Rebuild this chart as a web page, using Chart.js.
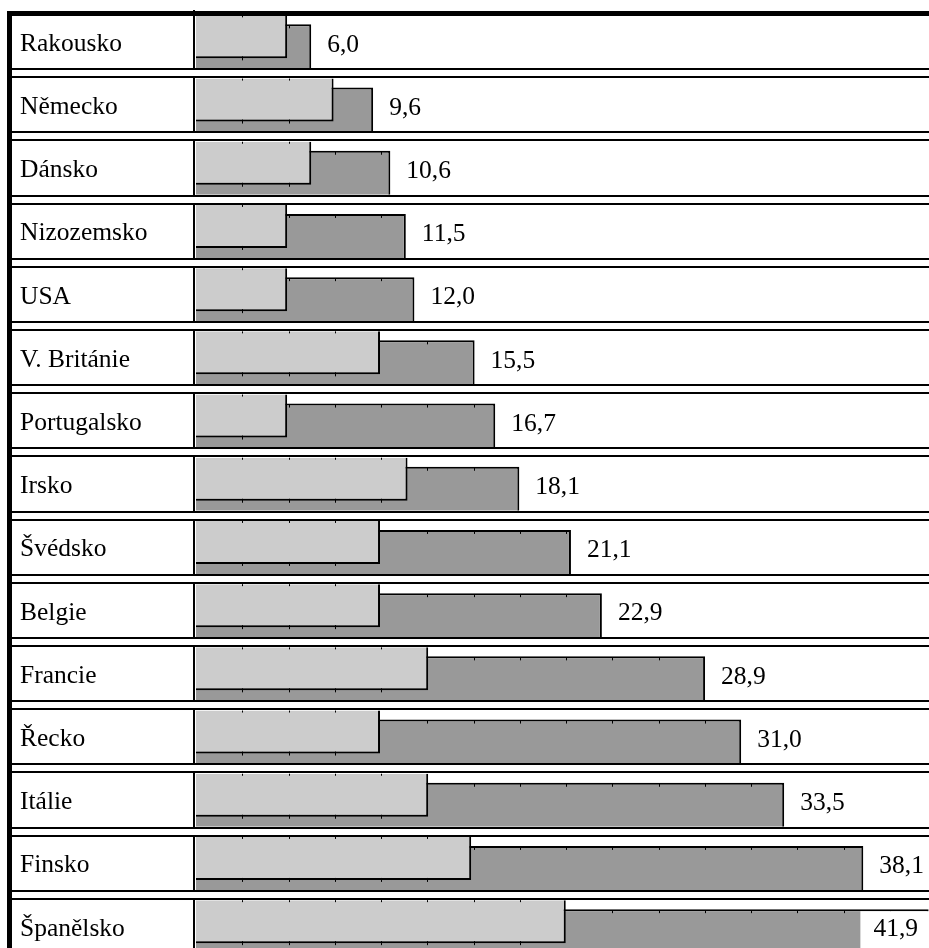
<!DOCTYPE html>
<html>
<head>
<meta charset="utf-8">
<script src="https://cdn.jsdelivr.net/npm/chart.js@4.4.1/dist/chart.umd.min.js"></script>
<style>
  html, body { margin: 0; padding: 0; background: #fff; overflow: hidden; width: 929px; height: 948px; }
  #wrap { position: relative; width: 929px; height: 948px; overflow: hidden; }
  canvas { display: block; }
</style>
</head>
<body>
<div id="wrap"><canvas id="c" width="929" height="963"></canvas></div>
<script>
// ---- data ----
const countries = ["Rakousko", "Německo", "Dánsko", "Nizozemsko", "USA", "V. Británie", "Portugalsko", "Irsko", "Švédsko", "Belgie", "Francie", "Řecko", "Itálie", "Finsko", "Španělsko"];
const lightValues = [4.6, 7.3, 6.0, 4.6, 4.6, 10.0, 4.6, 11.6, 10.0, 10.0, 12.8, 10.0, 12.8, 15.3, 20.8];
const darkValues = [6.0, 9.6, 10.6, 11.5, 12.0, 15.5, 16.7, 18.1, 21.1, 22.9, 28.9, 31.0, 33.5, 38.1, 41.9];
const xMin = -0.7;
const xMax = 41.92;
const tickStep = 2.69;

const FONT = "'Liberation Serif', 'Times New Roman', serif";
const FONT_SIZE = 25.5;

const fmt = v => v.toFixed(1).replace('.', ',');

const framePlugin = {
  id: 'frame',
  afterDatasetsDraw(chart) {
    const ctx = chart.ctx;
    const y = chart.scales.y;
    const x = chart.scales.x;
    const area = chart.chartArea;
    const W = chart.width;
    const pitch = (y.getPixelForValue(1) - y.getPixelForValue(0));
    const top = y.getPixelForValue(0) - pitch / 2;
    ctx.save();

    // small tick marks
    const lightMeta = chart.getDatasetMeta(0);
    const darkMeta = chart.getDatasetMeta(1);
    ctx.strokeStyle = '#000';
    ctx.lineWidth = 1;
    lightMeta.data.forEach((bar, i) => {
      const lb = bar.y + bar.height / 2;
      const lt = bar.y - bar.height / 2;
      const lightEnd = bar.x;
      const dbar = darkMeta.data[i];
      const dt = dbar.y - dbar.height / 2;
      const darkEnd = Math.min(dbar.x, area.right);
      for (let k = 1; ; k++) {
        const px = Math.round(x.getPixelForValue(xMin + k * tickStep)) + 0.5;
        if (px >= darkEnd - 3) break;
        ctx.beginPath();
        if (px < lightEnd - 2) {
          ctx.moveTo(px, lb - 2);
          ctx.lineTo(px, lb + 2);
          ctx.moveTo(px, lt);
          ctx.lineTo(px, lt + 2);
        } else if (px > lightEnd + 2) {
          ctx.moveTo(px, dt + 1);
          ctx.lineTo(px, dt + 4);
        }
        ctx.stroke();
      }
    });

    // column separator
    ctx.fillStyle = '#000';
    ctx.fillRect(193, top, 2, chart.height);

    // double horizontal lines between rows
    for (let i = 1; i <= countries.length; i++) {
      const yb = Math.round(top + i * pitch);
      ctx.fillStyle = '#fff';
      ctx.fillRect(12, yb - 4, W, 8);
      ctx.fillStyle = '#000';
      ctx.fillRect(12, yb - 5, W, 2);
      ctx.fillRect(12, yb + 3, W, 2);
    }

    // outer borders
    ctx.fillStyle = '#000';
    ctx.fillRect(7, 11, W, 5);
    ctx.fillRect(7, 11, 5, chart.height);

    // value labels
    ctx.font = FONT_SIZE + 'px ' + FONT;
    ctx.textBaseline = 'middle';
    darkMeta.data.forEach((bar, i) => {
      const txt = fmt(darkValues[i]);
      const tw = ctx.measureText(txt).width;
      const cy = bar.y - 1.5;
      if (bar.x + 16 + tw > area.right - 4) {
        const bx = area.right - tw - 24;
        ctx.fillStyle = '#fff';
        ctx.fillRect(bx, bar.y - bar.height / 2 + 2, area.right - bx, bar.height);
        ctx.fillStyle = '#000';
        ctx.textAlign = 'right';
        ctx.fillText(txt, area.right - 11, cy);
      } else {
        ctx.fillStyle = '#000';
        ctx.textAlign = 'left';
        ctx.fillText(txt, bar.x + 16, cy);
      }
    });
    ctx.restore();
  }
};

const slot = 9.5;
const pitchGuess = 63.2;

new Chart(document.getElementById('c'), {
  type: 'bar',
  data: {
    labels: countries,
    datasets: [
      {
        data: lightValues,
        base: xMin,
        backgroundColor: '#cccccc',
        borderColor: '#000',
        borderWidth: { top: 0, right: 2, bottom: 2, left: 0 },
        borderSkipped: false,
        categoryPercentage: (2 * slot) / pitchGuess,
        barPercentage: 43 / slot
      },
      {
        data: darkValues,
        base: xMin,
        backgroundColor: '#999999',
        borderColor: '#000',
        borderWidth: { top: 2, right: 2, bottom: 0, left: 0 },
        borderSkipped: false,
        categoryPercentage: (2 * slot) / pitchGuess,
        barPercentage: 44 / slot
      }
    ]
  },
  options: {
    indexAxis: 'y',
    responsive: false,
    animation: false,
    events: [],
    layout: { padding: { top: 10, bottom: 5, left: 20, right: 0 } },
    plugins: {
      legend: { display: false },
      tooltip: { enabled: false }
    },
    scales: {
      x: {
        type: 'linear',
        display: false,
        min: xMin,
        max: xMax
      },
      y: {
        type: 'category',
        grid: { display: false },
        border: { display: false },
        ticks: {
          crossAlign: 'far',
          padding: 0,
          labelOffset: 2.5,
          color: '#000',
          font: { family: FONT, size: FONT_SIZE }
        },
        afterFit(scale) {
          scale.width = 176;
          scale.paddingTop = 0;
          scale.paddingBottom = 0;
        }
      }
    }
  },
  plugins: [framePlugin]
});
</script>
</body>
</html>
